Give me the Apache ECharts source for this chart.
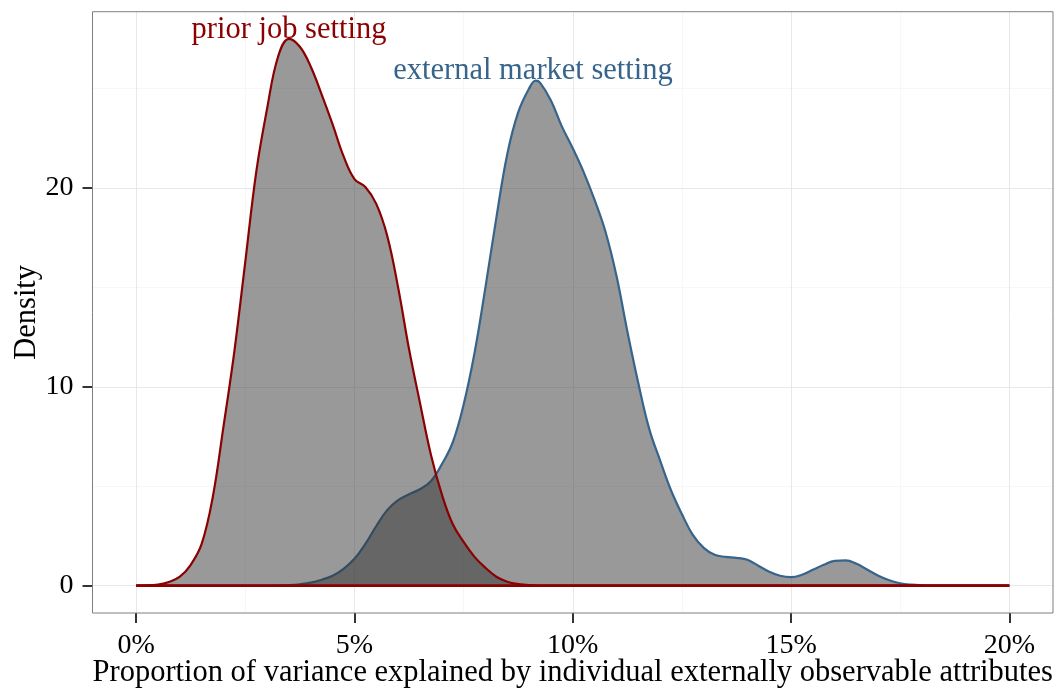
<!DOCTYPE html>
<html>
<head>
<meta charset="utf-8">
<script src="https://cdn.jsdelivr.net/npm/echarts@6/dist/echarts.min.js"></script>
<style>
html,body{margin:0;padding:0;background:#fff;}
#chart{width:1059px;height:692px;}
</style>
</head>
<body>
<div id="chart"></div>
<script>
// ---- data ----
const priorX = [0, 0.5, 0.75, 1.0, 1.25, 1.5, 1.75, 2.0, 2.25, 2.5, 2.75, 3.0, 3.25, 3.5, 3.75, 4.0, 4.25, 4.5, 4.75, 5.0, 5.25, 5.5, 5.75, 6.0, 6.25, 6.5, 6.75, 7.0, 7.25, 7.5, 7.75, 8.0, 8.25, 8.5, 8.75, 9.0, 9.5, 20];
const priorY = [0, 0.05, 0.18, 0.45, 1.05, 2.1, 4.4, 8.0, 11.8, 16.3, 20.8, 24.0, 26.6, 27.5, 27.1, 26.1, 24.7, 23.2, 21.6, 20.45, 20.05, 19.2, 17.6, 15.0, 11.9, 9.2, 6.6, 4.6, 3.1, 2.2, 1.45, 0.9, 0.45, 0.2, 0.08, 0.03, 0, 0];

const externalX = [0, 3.0, 3.5, 3.75, 4.0, 4.25, 4.5, 4.75, 5.0, 5.25, 5.5, 5.75, 6.0, 6.25, 6.5, 6.75, 7.0, 7.25, 7.5, 7.75, 8.0, 8.25, 8.5, 8.75, 9.0, 9.15, 9.25, 9.5, 9.75, 10.0, 10.25, 10.5, 10.75, 11.0, 11.25, 11.5, 11.75, 12.0, 12.25, 12.5, 12.75, 13.0, 13.25, 13.5, 13.75, 14.0, 14.25, 14.5, 14.75, 15.0, 15.25, 15.5, 15.75, 16.0, 16.25, 16.5, 16.75, 17.0, 17.25, 17.5, 17.75, 18.0, 18.5, 20];
const externalY = [0, 0, 0.03, 0.07, 0.15, 0.3, 0.5, 0.85, 1.35, 2.1, 3.0, 3.8, 4.3, 4.6, 4.85, 5.25, 6.1, 7.2, 9.1, 11.7, 15.0, 18.5, 21.7, 23.8, 25.0, 25.4, 25.3, 24.4, 23.1, 22.0, 20.8, 19.4, 17.8, 15.6, 12.8, 10.2, 7.9, 6.3, 4.8, 3.6, 2.55, 1.9, 1.55, 1.45, 1.4, 1.3, 1.0, 0.7, 0.5, 0.43, 0.55, 0.8, 1.05, 1.25, 1.27, 1.1, 0.8, 0.5, 0.27, 0.12, 0.05, 0.02, 0, 0];

// range over which both densities were estimated (outline baseline)
const baselineX = [0, 20];
const baselineY = [0, 0];

const xTicks = [0, 5, 10, 15, 20];
const yTicks = [0, 10, 20];
const xMinor = [2.5, 7.5, 12.5, 17.5];
const yMinor = [5, 15, 25];

const annoText = ['prior job setting', 'external market setting'];
const annoX = [3.5, 9.09];
const annoY = [27.95, 25.9];

// ---- styles ----
const RED = '#8B0000';
const BLUE = '#36648B';
const FONT = "'Liberation Serif', 'DejaVu Serif', serif";

const zip = (xs, ys) => xs.map((x, i) => [x, ys[i]]);

const gridLines = [].concat(
  xMinor.map(v => ({xAxis: v, lineStyle: {color: '#f7f7f7', width: 1, type: 'solid'}})),
  yMinor.map(v => ({yAxis: v, lineStyle: {color: '#f7f7f7', width: 1, type: 'solid'}})),
  xTicks.map(v => ({xAxis: v, lineStyle: {color: '#e8e8e8', width: 1, type: 'solid'}})),
  yTicks.map(v => ({yAxis: v, lineStyle: {color: '#e8e8e8', width: 1, type: 'solid'}}))
);

const chart = echarts.init(document.getElementById('chart'), null, {renderer: 'canvas'});
chart.setOption({
  animation: false,
  backgroundColor: '#ffffff',
  grid: {left: 92.5, right: 6, top: 11.7, bottom: 79, outerBoundsMode: 'none', containLabel: false,
         show: true, borderColor: '#7f7f7f', borderWidth: 1, backgroundColor: 'transparent', z: 10},
  xAxis: {
    type: 'value', min: -1, max: 21,
    axisLine: {show: false, onZero: false},
    splitLine: {show: false},
    axisTick: {show: true, customValues: xTicks, length: 10, lineStyle: {color: '#333', width: 2}},
    axisLabel: {customValues: xTicks, formatter: v => v + '%', fontFamily: FONT, fontSize: 28, color: '#000', margin: 19},
    name: 'Proportion of variance explained by individual externally observable attributes',
    nameLocation: 'middle', nameGap: 44, nameMoveOverlap: false,
    nameTextStyle: {fontFamily: FONT, fontSize: 30.5, color: '#000'}
  },
  yAxis: {
    type: 'value', min: -1.3745, max: 28.865,
    axisLine: {show: false, onZero: false},
    splitLine: {show: false},
    axisTick: {show: true, customValues: yTicks, length: 10, lineStyle: {color: '#333', width: 2}},
    axisLabel: {customValues: yTicks, fontFamily: FONT, fontSize: 28, color: '#000', margin: 19},
    name: 'Density', nameLocation: 'middle', nameGap: 50, nameRotate: 90, nameMoveOverlap: false,
    nameTextStyle: {fontFamily: FONT, fontSize: 30.5, color: '#000'}
  },
  series: [
    {
      type: 'line', data: [], z: 0, silent: true,
      markLine: {silent: true, z: 0, symbol: ['none', 'none'], label: {show: false}, animation: false, data: gridLines}
    },
    {
      name: 'external market setting', type: 'line', z: 2,
      data: zip(externalX, externalY),
      smooth: 0.4, showSymbol: false, symbol: 'none',
      lineStyle: {color: BLUE, width: 2.2},
      areaStyle: {color: '#333333', opacity: 0.5, origin: 0}
    },
    {
      name: 'prior job setting', type: 'line', z: 3,
      data: zip(priorX, priorY),
      smooth: 0.4, showSymbol: false, symbol: 'none',
      lineStyle: {color: RED, width: 2.2},
      areaStyle: {color: '#333333', opacity: 0.5, origin: 0}
    },
    {
      name: 'baseline', type: 'line', z: 4, silent: true,
      data: zip(baselineX, baselineY),
      showSymbol: false, symbol: 'none',
      lineStyle: {color: RED, width: 2.6}
    },
    {
      type: 'scatter', z: 5, silent: true,
      symbolSize: 1, itemStyle: {color: 'rgba(0,0,0,0)', opacity: 1},
      data: annoText.map((t, i) => ({
        value: [annoX[i], annoY[i]],
        label: {show: true, position: 'inside', formatter: t, fontFamily: FONT, fontSize: 30.5, color: i === 0 ? RED : BLUE}
      }))
    }
  ]
});
</script>
</body>
</html>
